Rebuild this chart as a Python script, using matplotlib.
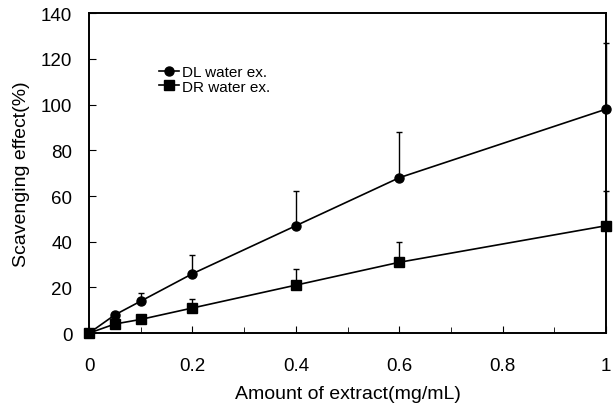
import numpy as np
import matplotlib.pyplot as plt
from matplotlib.ticker import MultipleLocator

plt.rcParams['font.family'] = ['Liberation Sans', 'DejaVu Sans']

# data
conc = [0, 0.05, 0.1, 0.2, 0.4, 0.6, 1.0]
dl_mean = [0, 8, 14, 26, 47, 68, 98]
dl_err = [0, 0, 3.5, 8, 15, 20, 29]
dr_mean = [0, 4, 6, 11, 21, 31, 47]
dr_err = [0, 0, 0, 4, 7, 9, 15]

fig = plt.figure(figsize=(6.14, 4.06), dpi=100)
ax = fig.add_axes([0.145, 0.177, 0.842, 0.788])

ax.errorbar(conc, dl_mean, yerr=[np.zeros(len(dl_err)), dl_err], color='black',
            marker='o', ms=6.5, lw=1.2, elinewidth=1, capsize=2.5,
            label='DL water ex.', clip_on=False, zorder=3)
ax.errorbar(conc, dr_mean, yerr=[np.zeros(len(dr_err)), dr_err], color='black',
            marker='s', ms=6.5, lw=1.2, elinewidth=1, capsize=2.5,
            label='DR water ex.', clip_on=False, zorder=3)

ax.set_xlim(0, 1)
ax.set_ylim(0, 140)
ax.xaxis.set_minor_locator(MultipleLocator(0.1))
ax.yaxis.set_major_locator(MultipleLocator(20))
ax.set_xticks([0, 0.2, 0.4, 0.6, 0.8, 1.0])
ax.set_xticklabels(['0', '0.2', '0.4', '0.6', '0.8', '1'])
ax.tick_params(which='both', direction='in', labelsize=13.5)
ax.tick_params(which='major', length=5)
ax.tick_params(which='minor', length=4)
ax.tick_params(axis='x', pad=17)
ax.tick_params(axis='y', pad=12)
for s in ax.spines.values():
    s.set_linewidth(1.4)

ax.set_xlabel('Amount of extract(mg/mL)', fontsize=14, labelpad=8)
ax.set_ylabel('Scavenging effect(%)', fontsize=14, labelpad=8)

h, l = ax.get_legend_handles_labels()
h = [x[0] for x in h]
ax.legend(h, l, loc='upper left', bbox_to_anchor=(0.123, 0.857), frameon=False,
          fontsize=11, handlelength=1.3, handletextpad=0.2, labelspacing=0.05,
          borderaxespad=0)

fig.savefig('out.png', dpi=100)
